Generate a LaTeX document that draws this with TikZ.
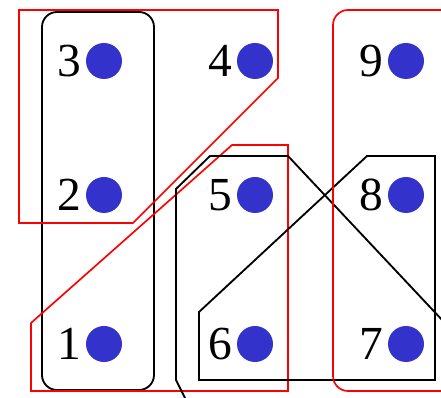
\documentclass[tikz,border=0pt]{standalone}
\usepackage{fontspec}
\setmainfont{Liberation Serif}
\usetikzlibrary{positioning}
\definecolor{dotblue}{RGB}{51,51,204}
\definecolor{edgered}{RGB}{255,0,0}
\tikzset{
  vertex/.style={
    circle, fill=dotblue, draw=none,
    minimum size=0.72cm, inner sep=0pt
  },
  vlabel/.style={
    inner sep=0pt, font=\fontsize{27}{30}\selectfont
  },
  blackedge/.style={
    draw=black, line width=1.05pt
  },
  rededge/.style={
    draw=edgered, line width=0.95pt
  },
}

\begin{document}
\begin{tikzpicture}[x=0.02cm, y=-0.02cm]

  \useasboundingbox (0,0) rectangle (441,398);
  \clip (0,0) rectangle (441,398);

  %% Hyperedges
  \draw[blackedge, rounded corners=0.3cm] (42,12) rectangle (154,390);
  \draw[rededge]
    (19,10) -- (278,10) -- (278,78) -- (133,223) -- (19,223) -- cycle;
  \draw[rededge]
    (31,323) -- (232,145) -- (288,145) -- (288,391) -- (31,391) -- cycle;
  \draw[blackedge]
    (195,418) -- (176,380) -- (176,189) -- (210,156) -- (288,156) -- (460,339);
  \draw[blackedge]
    (199,312) -- (367,156) -- (435,156) -- (435,380) -- (199,380) -- cycle;
  \draw[rededge, rounded corners=0.3cm] (333,10) rectangle (457,391);

  %% Vertices
  \node[vertex] (v3) at (104,61) {};
  \node[vertex] (v4) at (255,61) {};
  \node[vertex] (v9) at (406,61) {};
  \node[vertex] (v2) at (104,195) {};
  \node[vertex] (v5) at (255,195) {};
  \node[vertex] (v8) at (406,195) {};
  \node[vertex] (v1) at (104,344) {};
  \node[vertex] (v6) at (255,344) {};
  \node[vertex] (v7) at (406,344) {};

  %% Labels
  \node[vlabel, left=0.08cm of v3] (l3) {3};
  \node[vlabel, left=0.08cm of v4] (l4) {4};
  \node[vlabel, left=0.08cm of v9] (l9) {9};
  \node[vlabel, left=0.08cm of v2] (l2) {2};
  \node[vlabel, left=0.08cm of v5] (l5) {5};
  \node[vlabel, left=0.08cm of v8] (l8) {8};
  \node[vlabel, left=0.08cm of v1] (l1) {1};
  \node[vlabel, left=0.08cm of v6] (l6) {6};
  \node[vlabel, left=0.08cm of v7] (l7) {7};

\end{tikzpicture}
\end{document}
